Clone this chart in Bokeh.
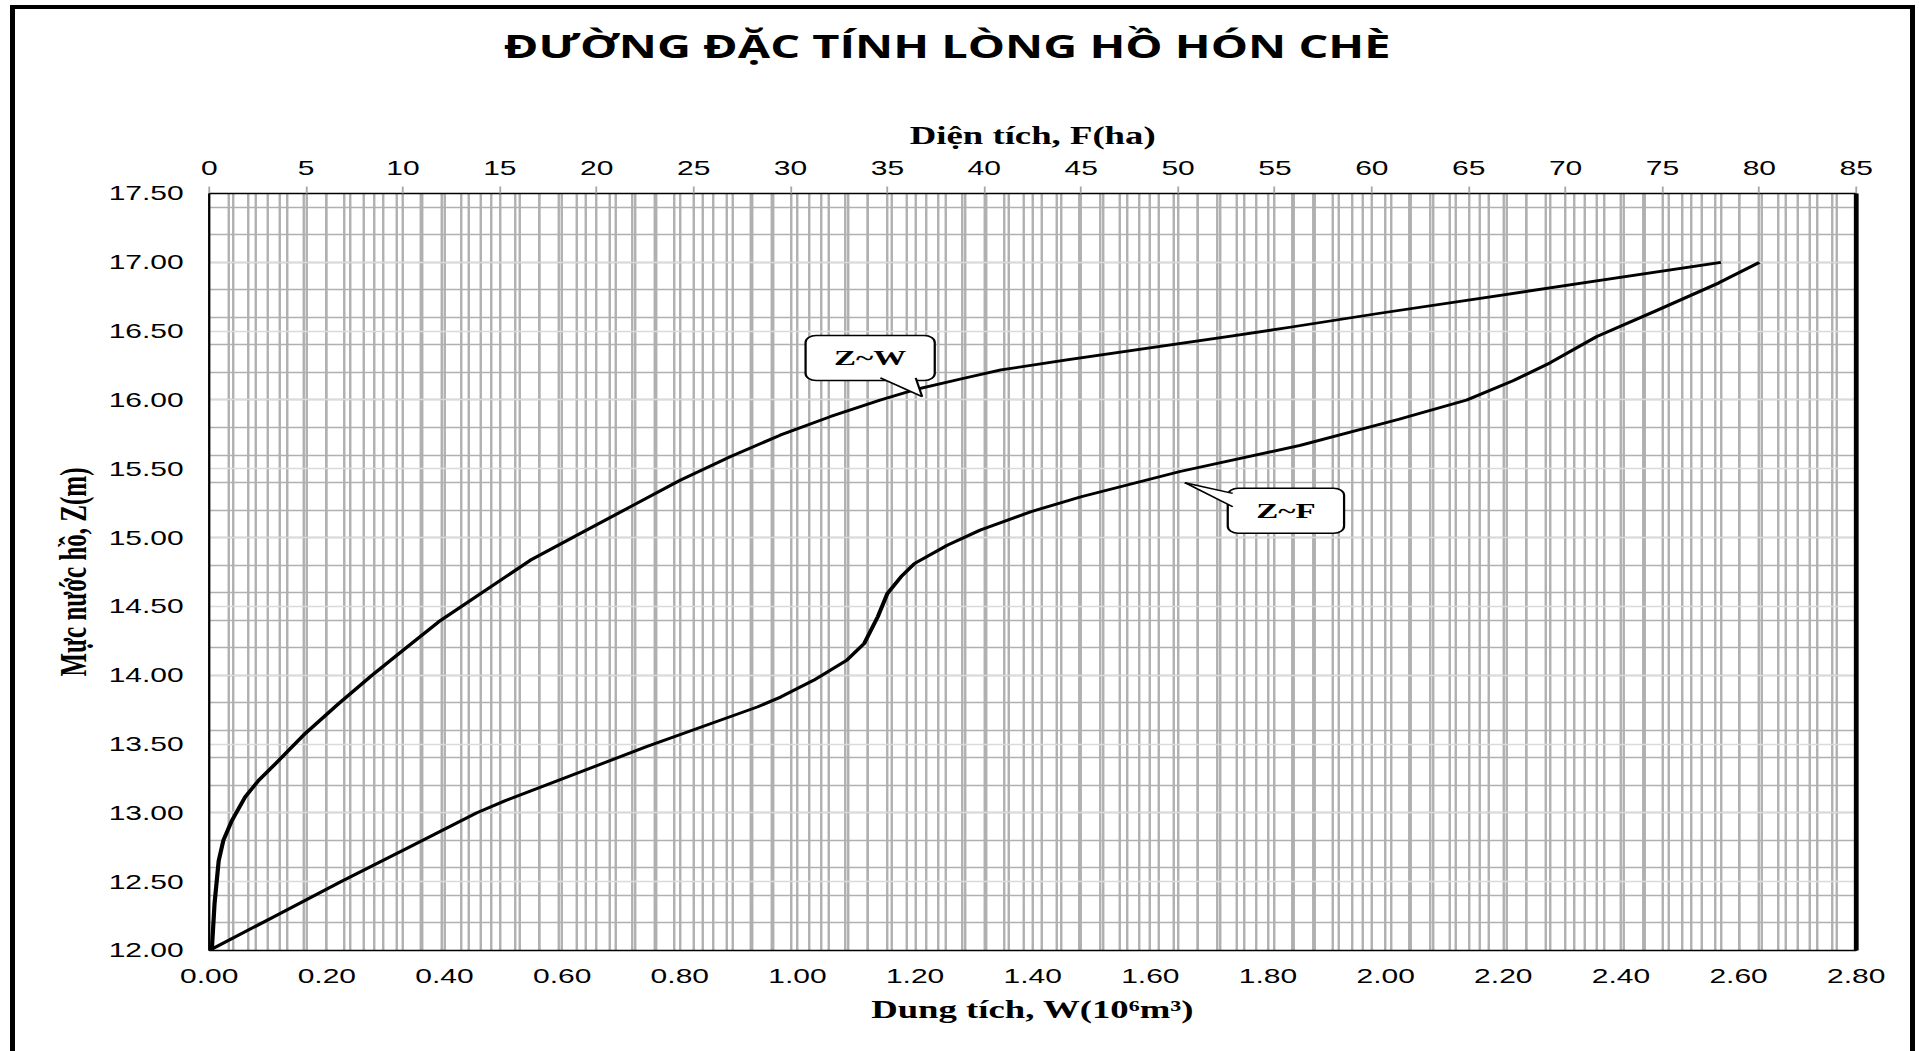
from bokeh.plotting import figure
from bokeh.models import (Range1d, LinearAxis, FixedTicker, NumeralTickFormatter,
                          Grid, Label, InlineStyleSheet)
from bokeh.embed import file_html
from bokeh.resources import INLINE

# ---------------- data ----------------
# Z ~ W  (water level Z in m vs. volume W in 10^6 m3, bottom axis)
zw_level = [12.00, 12.02, 12.34, 12.65, 12.80, 12.945, 13.115, 13.236, 13.38, 13.576,
            13.794, 14.00, 14.194, 14.388, 14.836, 15.03, 15.224, 15.418, 15.588, 15.745,
            15.879, 16.00, 16.073, 16.158, 16.218, 16.29, 16.465, 16.53, 16.63, 16.76,
            16.86, 17.00]
zw_volume = [0.000, 0.0046, 0.009, 0.016, 0.024, 0.0386, 0.061, 0.084, 0.118, 0.163,
             0.220, 0.277, 0.333, 0.390, 0.546, 0.631, 0.716, 0.801, 0.886, 0.971,
             1.056, 1.141, 1.198, 1.283, 1.346, 1.455, 1.740, 1.840, 1.990, 2.195,
             2.350, 2.570]

# Z ~ F  (water level Z in m vs. surface area F in ha, top axis)
zf_level = [12.00, 12.25, 12.50, 12.75, 13.00, 13.09, 13.48, 13.77, 13.842, 13.964,
            14.109, 14.23, 14.424, 14.594, 14.715, 14.812, 14.945, 15.055, 15.188,
            15.297, 15.48, 15.67, 15.86, 16.00, 16.14, 16.27, 16.46, 16.65, 16.85, 17.00]
zf_area = [0.0, 3.4, 6.8, 10.3, 13.8, 15.3, 22.55, 28.3, 29.5, 31.2,
           32.9, 33.8, 34.5, 35.0, 35.7, 36.4, 38.1, 39.8, 42.4,
           45.0, 50.1, 56.3, 61.4, 64.9, 67.3, 69.2, 71.6, 74.7, 77.9, 80.0]

w_ticks = [round(0.2 * i, 2) for i in range(15)]          # 0.00 .. 2.80
w_minor = [round(0.04 * i, 2) for i in range(71)]
f_ticks = list(range(0, 90, 5))                          # 0 .. 85
f_minor = list(range(0, 86))
z_ticks = [round(12.0 + 0.5 * i, 2) for i in range(12)]   # 12.00 .. 17.50
z_minor = [round(12.0 + 0.2 * i, 2) for i in range(28)]

title_text = "ĐƯỜNG ĐẶC TÍNH LÒNG HỒ HÓN CHÈ"
x_title = "Dung tích, W(10⁶m³)"
x2_title = "Diện tích, F(ha)"
y_title = "Mực nước hồ, Z(m)"
label_zw = "Z~W"
label_zf = "Z~F"

# ---------------- layout ----------------
S = 1.5                 # the original picture is stretched horizontally
FIG_W, FIG_H = 1278, 1046
ML, MR, MT, MB = 139, 41, 193, 96

p = figure(width=FIG_W, height=FIG_H,
           x_range=Range1d(0, 2.8), y_range=Range1d(12, 17.5),
           output_backend="svg", toolbar_location=None,
           min_border_left=ML, min_border_right=MR,
           min_border_top=MT, min_border_bottom=MB)
p.extra_x_ranges = {"F": Range1d(0, 85)}
p.background_fill_color = "white"
p.border_fill_color = "white"
p.outline_line_color = "black"
p.outline_line_width = 1
p.stylesheets = [InlineStyleSheet(css=(
    ":host { overflow: visible; } "
    ".bk-Canvas { transform: scaleX(%s); transform-origin: 0 0; }" % S))]

p.xgrid.grid_line_color = None
p.ygrid.grid_line_color = None

TICK_FONT = "Liberation Sans"
SERIF = "Liberation Serif"

# bottom axis (W)
xb = p.xaxis[0]
xb.ticker = FixedTicker(ticks=w_ticks)
xb.formatter = NumeralTickFormatter(format="0.00")
xb.axis_label = x_title

# left axis (Z)
yl = p.yaxis[0]
yl.ticker = FixedTicker(ticks=z_ticks)
yl.formatter = NumeralTickFormatter(format="0.00")
yl.axis_label = y_title

# top axis (F)
xt = LinearAxis(x_range_name="F", ticker=FixedTicker(ticks=f_ticks),
                formatter=NumeralTickFormatter(format="0"), axis_label=x2_title)
p.add_layout(xt, "above")

# chart title, carried by a bare axis above the F axis
# (trailing no-break spaces move the visible title left of the plot centre, as in the original)
xtitle = LinearAxis(ticker=FixedTicker(ticks=[]),
                    axis_line_color=None, major_tick_line_color=None,
                    minor_tick_line_color=None, major_label_text_font_size="0px",
                    major_tick_out=0, major_tick_in=0,
                    axis_label=title_text + "\u00a0" * 14,
                    axis_label_text_font="Open Sans",
                    axis_label_text_font_style="bold", axis_label_text_font_size="31.3px",
                    axis_label_text_color="black", axis_label_standoff=52)
p.add_layout(xtitle, "above")

# right edge (thick line)
yr = LinearAxis(ticker=FixedTicker(ticks=[]), major_label_text_font_size="0px",
                major_tick_line_color=None, minor_tick_line_color=None,
                axis_line_width=3.2, axis_line_color="black")
p.add_layout(yr, "right")

for ax in (xb, yl, xt):
    ax.major_label_text_font = TICK_FONT
    ax.major_label_text_font_size = "20px"
    ax.major_label_text_color = "black"
    ax.axis_label_text_font = SERIF
    ax.axis_label_text_font_style = "bold"
    ax.axis_label_text_color = "black"
    ax.axis_label_text_font_size = "24.5px"
    ax.minor_tick_line_color = None
    ax.axis_line_color = "black"
    ax.axis_line_width = 1.5

xb.major_tick_line_color = None
xb.major_tick_out = 0
xb.major_label_standoff = 19
xb.axis_label_standoff = 10

yl.major_tick_line_color = None
yl.major_tick_out = 0
yl.major_label_standoff = 17
yl.axis_label_standoff = 7
yl.axis_label_text_font_size = "25px"

xt.major_tick_line_color = "#a6a6a6"
xt.major_tick_line_width = 1.2
xt.major_tick_out = 7
xt.major_tick_in = 0
xt.major_label_standoff = 11
xt.axis_label_standoff = 9

# ---------------- grids ----------------
MINOR_C = "#b0b0b0"
p.add_layout(Grid(dimension=1, ticker=FixedTicker(ticks=z_minor),
                  grid_line_color=MINOR_C, grid_line_width=1.5))
p.add_layout(Grid(dimension=0, ticker=FixedTicker(ticks=w_minor),
                  grid_line_color=MINOR_C, grid_line_width=1.6))
p.add_layout(Grid(dimension=0, ticker=FixedTicker(ticks=f_minor), x_range_name="F",
                  grid_line_color=MINOR_C, grid_line_width=1.6))
p.add_layout(Grid(dimension=1, ticker=FixedTicker(ticks=z_ticks),
                  grid_line_color="#dadada", grid_line_width=1.7))

# ---------------- curves ----------------
p.line(zw_volume, zw_level, line_color="black", line_width=2.8, line_join="round")
p.line(zf_area, zf_level, x_range_name="F", line_color="black", line_width=2.8,
       line_join="round")

# ---------------- callouts ----------------
def callout(x, y, text, tail_x, tail_y):
    lab = Label(x=x, y=y, text=text, text_align="center", text_baseline="middle",
                text_font=SERIF, text_font_style="bold", text_font_size="22px",
                text_color="black", padding=(19, 10), border_radius=7,
                background_fill_color="white", border_line_color="black",
                border_line_width=1.5)
    p.add_layout(lab)
    r = p.patch(tail_x, tail_y, fill_color="white", line_color=None)
    r.level = "overlay"
    r2 = p.multi_line([[tail_x[0], tail_x[1]], [tail_x[1], tail_x[2]]],
                      [[tail_y[0], tail_y[1]], [tail_y[1], tail_y[2]]],
                      line_color="black", line_width=1.5)
    r2.level = "overlay"

callout(1.1236, 16.305, label_zw, [1.141, 1.212, 1.201], [16.16, 16.024, 16.16])
callout(1.8304, 15.195, label_zf, [1.740, 1.6586, 1.740], [15.321, 15.399, 15.224])

html = file_html(p, INLINE)
frame_div = ('<div style="position:fixed;left:10px;top:5px;width:1905px;height:1200px;'
             'border:5px solid #000;border-top-width:4px;border-bottom:none;'
             'box-sizing:border-box;pointer-events:none;z-index:10"></div>')
i = html.rfind("</body>")
html = html[:i] + frame_div + html[i:]
open("out.html", "w").write(html)
